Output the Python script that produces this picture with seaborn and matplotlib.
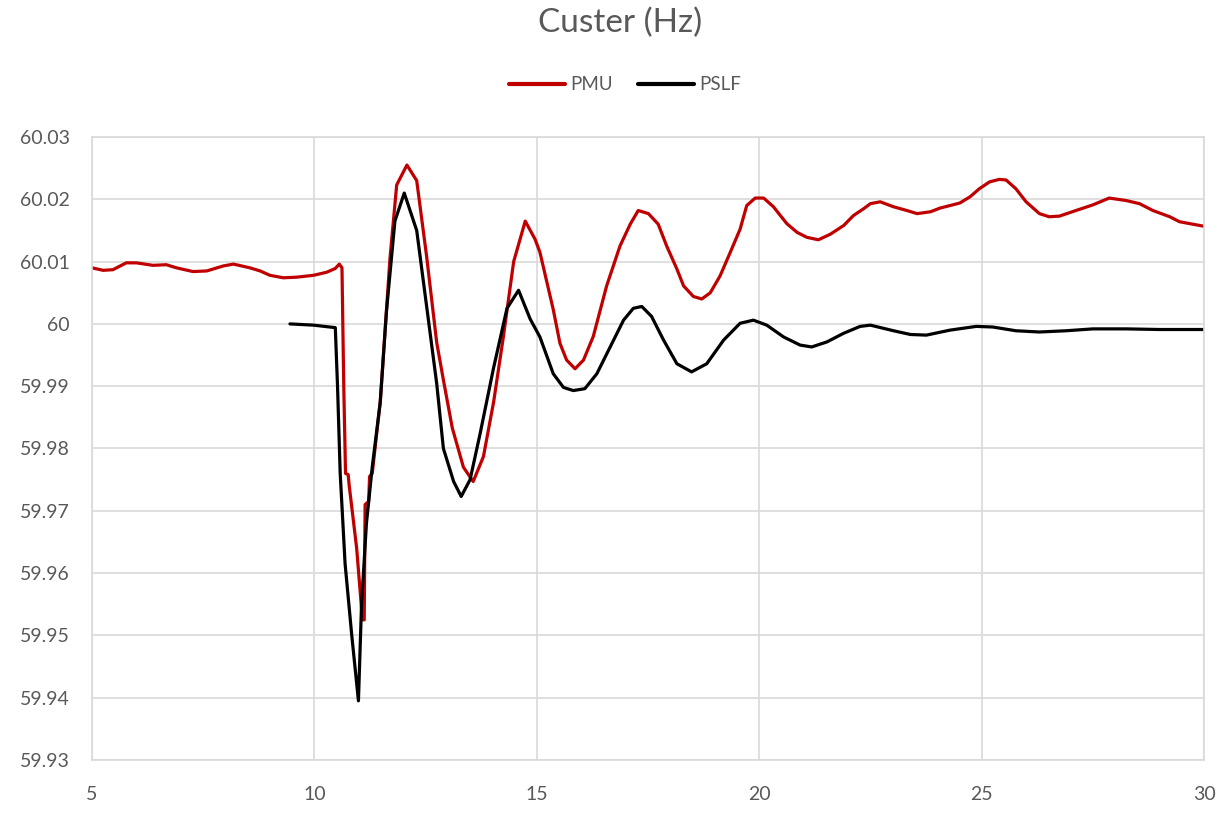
import numpy as np
import pandas as pd
import matplotlib
matplotlib.use("Agg")
import matplotlib.pyplot as plt
import seaborn as sns
from matplotlib.ticker import FuncFormatter, MultipleLocator
from matplotlib.lines import Line2D

# ---- data ----
pmu_t = [5.0, 5.25, 5.47, 5.77, 6.0, 6.37, 6.67, 6.9, 7.27, 7.58, 7.95, 8.18, 8.55, 8.78,
         9.0, 9.3, 9.6, 9.98, 10.28, 10.47, 10.56, 10.62, 10.66, 10.70, 10.76, 10.78,
         10.95, 11.08, 11.12, 11.14, 11.22, 11.24, 11.30, 11.48, 11.70, 11.85, 12.08,
         12.30, 12.52, 12.75, 12.90, 13.10, 13.35, 13.57, 13.80, 14.03, 14.25, 14.48,
         14.74, 14.96, 15.07, 15.37, 15.52, 15.67, 15.86, 16.05, 16.27, 16.57, 16.87,
         17.10, 17.28, 17.51, 17.73, 17.92, 18.15, 18.30, 18.52, 18.71, 18.90, 19.12,
         19.35, 19.57, 19.72, 19.91, 20.10, 20.32, 20.62, 20.85, 21.07, 21.33, 21.60,
         21.90, 22.12, 22.35, 22.50, 22.72, 23.02, 23.32, 23.55, 23.85, 24.07, 24.51,
         24.74, 24.95, 25.18, 25.40, 25.55, 25.77, 26.00, 26.30, 26.52, 26.75, 27.12,
         27.50, 27.87, 28.25, 28.55, 28.85, 29.23, 29.45, 29.75, 29.98]
pmu_f = [60.0090, 60.0086, 60.0087, 60.0098, 60.0098, 60.0094, 60.0095, 60.0090, 60.0084,
         60.0085, 60.0093, 60.0096, 60.0090, 60.0085, 60.0078, 60.0074, 60.0075, 60.0078,
         60.0083, 60.0089, 60.0096, 60.0090, 59.9900, 59.9760, 59.9758, 59.9742, 59.9640,
         59.9525, 59.9525, 59.9710, 59.9715, 59.9755, 59.9760, 59.9875, 60.0106, 60.0223,
         60.0255, 60.0230, 60.0110, 59.9970, 59.9910, 59.9833, 59.9770, 59.9747, 59.9787,
         59.9875, 59.9980, 60.0100, 60.0165, 60.0136, 60.0115, 60.0023, 59.9969, 59.9942,
         59.9928, 59.9942, 59.9980, 60.0061, 60.0125, 60.0160, 60.0182, 60.0177, 60.0160,
         60.0125, 60.0088, 60.0061, 60.0044, 60.0040, 60.0050, 60.0077, 60.0115, 60.0152,
         60.0190, 60.0202, 60.0202, 60.0188, 60.0161, 60.0147, 60.0139, 60.0135, 60.0144,
         60.0158, 60.0174, 60.0185, 60.0193, 60.0196, 60.0188, 60.0182, 60.0177, 60.0180,
         60.0186, 60.0194, 60.0204, 60.0217, 60.0228, 60.0232, 60.0231, 60.0217, 60.0196,
         60.0177, 60.0172, 60.0173, 60.0182, 60.0191, 60.0202, 60.0198, 60.0193, 60.0182,
         60.0172, 60.0164, 60.0160, 60.0157]

pslf_t = [9.45, 9.98, 10.47, 10.52, 10.58, 10.69, 10.84, 10.99, 11.06, 11.17, 11.30, 11.48,
          11.62, 11.81, 12.02, 12.30, 12.52, 12.75, 12.90, 13.13, 13.30, 13.50, 13.72,
          14.03, 14.33, 14.59, 14.85, 15.07, 15.37, 15.60, 15.82, 16.08, 16.35, 16.65,
          16.95, 17.17, 17.36, 17.58, 17.85, 18.15, 18.48, 18.82, 19.20, 19.57, 19.87,
          20.17, 20.55, 20.92, 21.18, 21.52, 21.90, 22.27, 22.50, 23.02, 23.40, 23.76,
          24.29, 24.88, 25.25, 25.77, 26.30, 26.90, 27.50, 28.25, 29.00, 29.98]
pslf_f = [60.0000, 59.9998, 59.9994, 59.9900, 59.9760, 59.9615, 59.9500, 59.9395, 59.9550,
          59.9680, 59.9770, 59.9874, 60.0020, 60.0165, 60.0210, 60.0150, 60.0030, 59.9904,
          59.9800, 59.9747, 59.9723, 59.9750, 59.9822, 59.9930, 60.0025, 60.0054, 60.0008,
          59.9979, 59.9920, 59.9898, 59.9893, 59.9896, 59.9920, 59.9963, 60.0006, 60.0025,
          60.0028, 60.0012, 59.9974, 59.9936, 59.9923, 59.9936, 59.9974, 60.0001, 60.0006,
          59.9998, 59.9979, 59.9966, 59.9963, 59.9971, 59.9985, 59.9996, 59.9998, 59.9989,
          59.9983, 59.9982, 59.9990, 59.9996, 59.9995, 59.9989, 59.9987, 59.9989, 59.9992,
          59.9992, 59.9991, 59.9991]

series_names = ["PMU", "PSLF"]
series_colors = ["#C00000", "#000000"]
title_text = "Custer (Hz)"
x_ticks = [5, 10, 15, 20, 25, 30]

df = pd.concat([
    pd.DataFrame({"t": pmu_t, "f": pmu_f, "series": series_names[0]}),
    pd.DataFrame({"t": pslf_t, "f": pslf_f, "series": series_names[1]}),
], ignore_index=True)

sns.set_theme(style="white")
plt.rcParams["font.family"] = ["Lato", "DejaVu Sans"]

fig = plt.figure(figsize=(12.28, 8.21), dpi=100)
ax = fig.add_axes([92 / 1228, 1 - 760 / 821, (1204 - 92) / 1228, (760 - 137) / 821])

sns.lineplot(data=df, x="t", y="f", hue="series", palette=dict(zip(series_names, series_colors)),
             sort=False, estimator=None, linewidth=2.3, ax=ax, legend=False)

ax.set_xlim(5, 30)
ax.set_ylim(59.93, 60.03)
ax.set_xticks(x_ticks)
ax.yaxis.set_major_locator(MultipleLocator(0.01))
ax.yaxis.set_major_formatter(FuncFormatter(lambda v, p: f"{round(v, 2):g}"))
ax.grid(True, color="#d9d9d9", linewidth=1.2)
ax.set_axisbelow(True)
for s in ax.spines.values():
    s.set_color("#d9d9d9")
    s.set_linewidth(1.2)
ax.tick_params(axis="both", length=0, labelsize=14, labelcolor="#595959")
ax.tick_params(axis="y", pad=16)
ax.tick_params(axis="x", pad=19)
ax.set_xlabel("")
ax.set_ylabel("")

fig.text(0.505, 0.972, title_text, ha="center", va="center", fontsize=24, color="#595959")

handles = [Line2D([], [], color=c, linewidth=3) for c in series_colors]
fig.legend(handles, series_names, loc="center", bbox_to_anchor=(0.509, 0.897), ncol=2,
           frameon=False, fontsize=13.5, labelcolor="#595959", handlelength=3.0,
           handletextpad=0.3, columnspacing=1.3)

fig.savefig("out.png", dpi=100)
